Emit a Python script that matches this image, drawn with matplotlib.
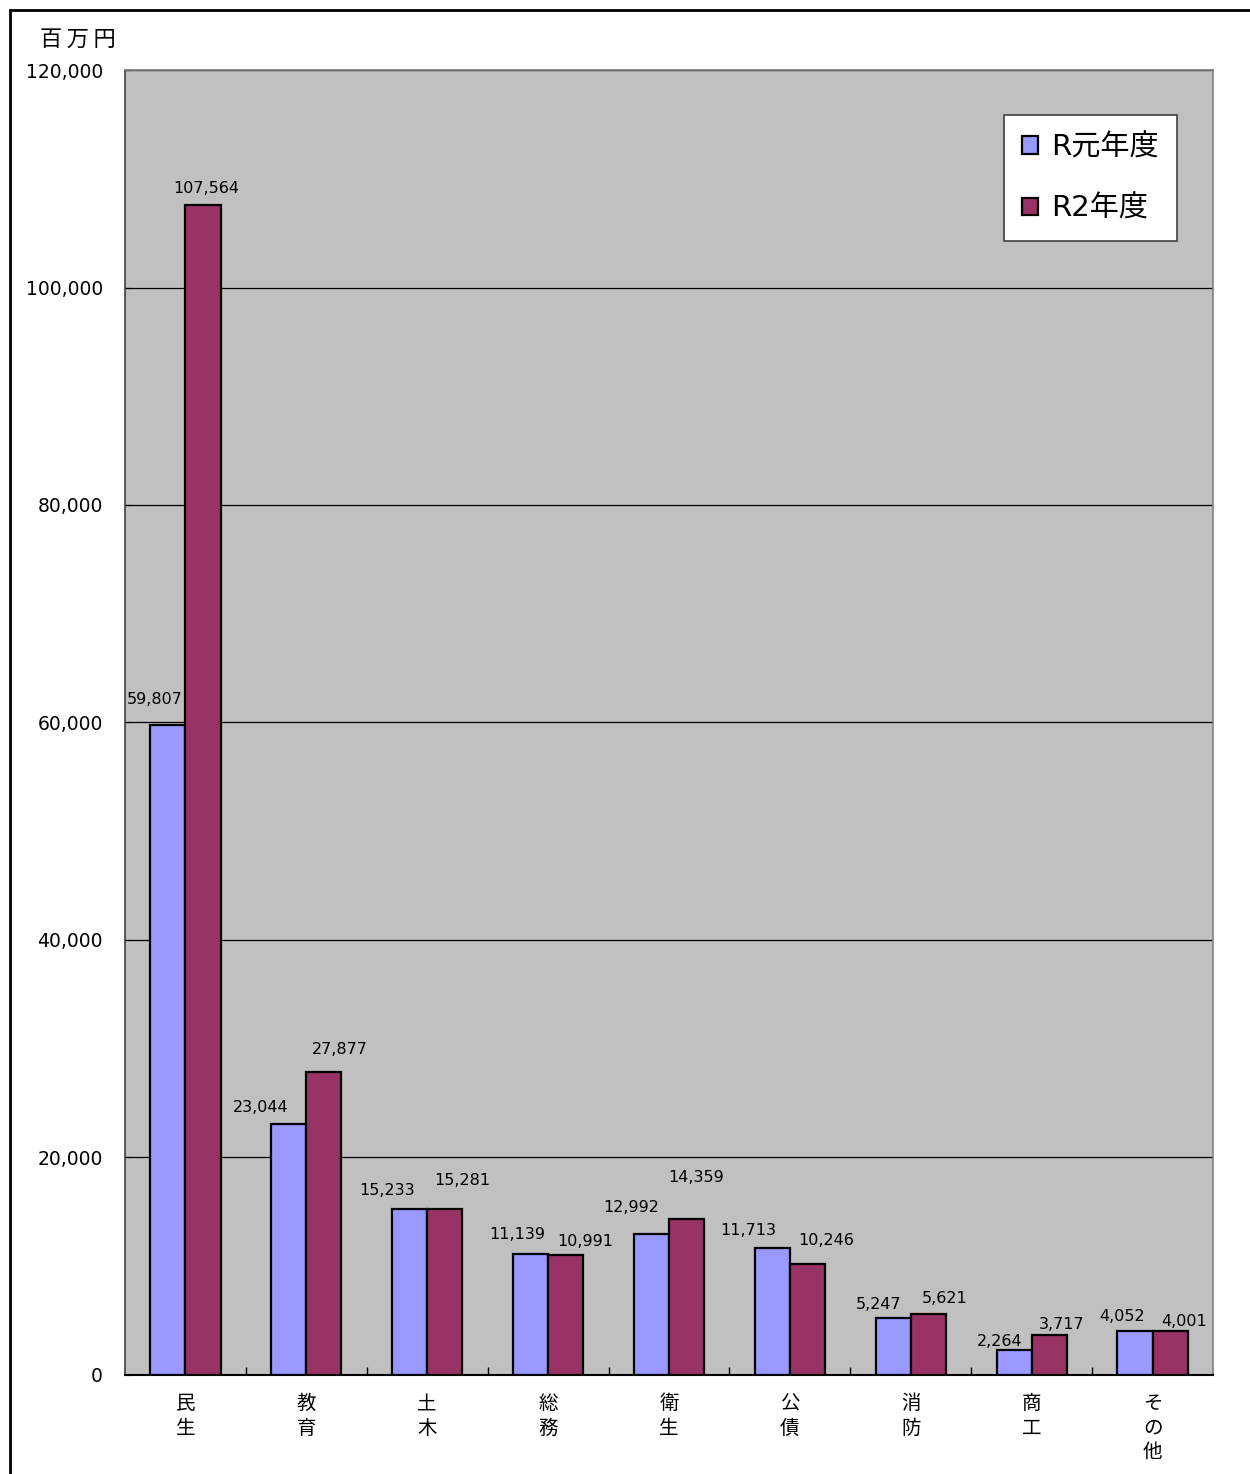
import matplotlib
matplotlib.use("Agg")
import matplotlib.pyplot as plt
from matplotlib.patches import Rectangle
from matplotlib.ticker import FuncFormatter
import numpy as np

# DejaVu for digits / latin, CJK falls through to Noto
plt.rcParams["font.family"] = ["DejaVu Sans", "Noto Sans CJK JP"]

# --------------------------------------------------
# data
# --------------------------------------------------
categories = ["民\n生", "教\n育", "土\n木", "総\n務", "衛\n生", "公\n債", "消\n防", "商\n工", "そ\nの\n他"]
r1_values = [59807, 23044, 15233, 11139, 12992, 11713, 5247, 2264, 4052]
r2_values = [107564, 27877, 15281, 10991, 14359, 10246, 5621, 3717, 4001]
series_names = ["R元年度", "R2年度"]
y_ticks = [0, 20000, 40000, 60000, 80000, 100000, 120000]

# --------------------------------------------------
# label placement (pixels from bar top centre, as Excel laid them out)
# --------------------------------------------------
r1_dx = [-13, -28, -23, -13, -20, -24, -15, -14, -13]
r1_dy = [25, 17, 19, 19, 26, 17, 13, 9, 14]
r2_dx = [3, 16, 18, 20, 10, 19, 16, 12, 14]
r2_dy = [17, 22, 28, 14, 41, 23, 15, 10, 10]

blue = "#9999FF"
red = "#993366"
PX = 0.72  # points per pixel at dpi 100

fig = plt.figure(figsize=(12.5, 14.74), dpi=100)
ax = fig.add_axes([0.1, 0.0672, 0.8704, 0.8853])
ax.set_facecolor("#C0C0C0")

x = np.arange(len(categories))
w = 0.29
ax.bar(x - w / 2, r1_values, w, color=blue, edgecolor="black", linewidth=1.6,
       label=series_names[0], zorder=3)
ax.bar(x + w / 2, r2_values, w, color=red, edgecolor="black", linewidth=1.6,
       label=series_names[1], zorder=3)

# value labels
for i, v in enumerate(r1_values):
    ax.annotate(f"{v:,}", (x[i] - w / 2, v), xytext=(r1_dx[i] * PX, r1_dy[i] * PX),
                textcoords="offset points", ha="center", va="center",
                fontsize=11.5, zorder=4)
for i, v in enumerate(r2_values):
    ax.annotate(f"{v:,}", (x[i] + w / 2, v), xytext=(r2_dx[i] * PX, r2_dy[i] * PX),
                textcoords="offset points", ha="center", va="center",
                fontsize=11.5, zorder=4)

ax.set_xlim(-0.5, len(categories) - 0.5)
ax.set_ylim(0, 120000)
ax.set_yticks(y_ticks)
ax.yaxis.set_major_formatter(FuncFormatter(lambda v, p: f"{int(v):,}"))
ax.yaxis.grid(True, color="black", linewidth=0.9, zorder=1)
ax.tick_params(axis="y", direction="in", length=5, pad=16, labelsize=13.5)

ax.set_xticks(x)
ax.set_xticklabels(categories, fontsize=14, linespacing=1.35, va="top")
ax.set_xticks(x[:-1] + 0.5, minor=True)
ax.tick_params(axis="x", which="major", length=0, pad=14)
ax.tick_params(axis="x", which="minor", direction="in", length=6, width=1)

for s in ["top", "right"]:
    ax.spines[s].set_color("#808080")
    ax.spines[s].set_linewidth(1.2)
ax.spines["left"].set_color("#404040")
ax.spines["left"].set_linewidth(1.2)
ax.spines["bottom"].set_color("black")
ax.spines["bottom"].set_linewidth(1.5)

leg = ax.legend(loc="upper right", bbox_to_anchor=(0.967, 0.9655), fontsize=21,
                frameon=True, fancybox=False, edgecolor="#404040", framealpha=1,
                handlelength=0.55, handleheight=0.55, handletextpad=0.45,
                labelspacing=1.15, borderpad=0.62, borderaxespad=0)
leg.get_frame().set_linewidth(1.2)

fig.text(40 / 1250, 1 - 40 / 1474, "百\u2009万\u2009円", fontsize=16, ha="left", va="center")

# outer frame
fig.patches.append(Rectangle((10 / 1250, -0.05), 1.1, 1 - 10 / 1474 + 0.05,
                             transform=fig.transFigure, fill=False,
                             edgecolor="black", linewidth=2))

fig.savefig("out.png", dpi=100)
